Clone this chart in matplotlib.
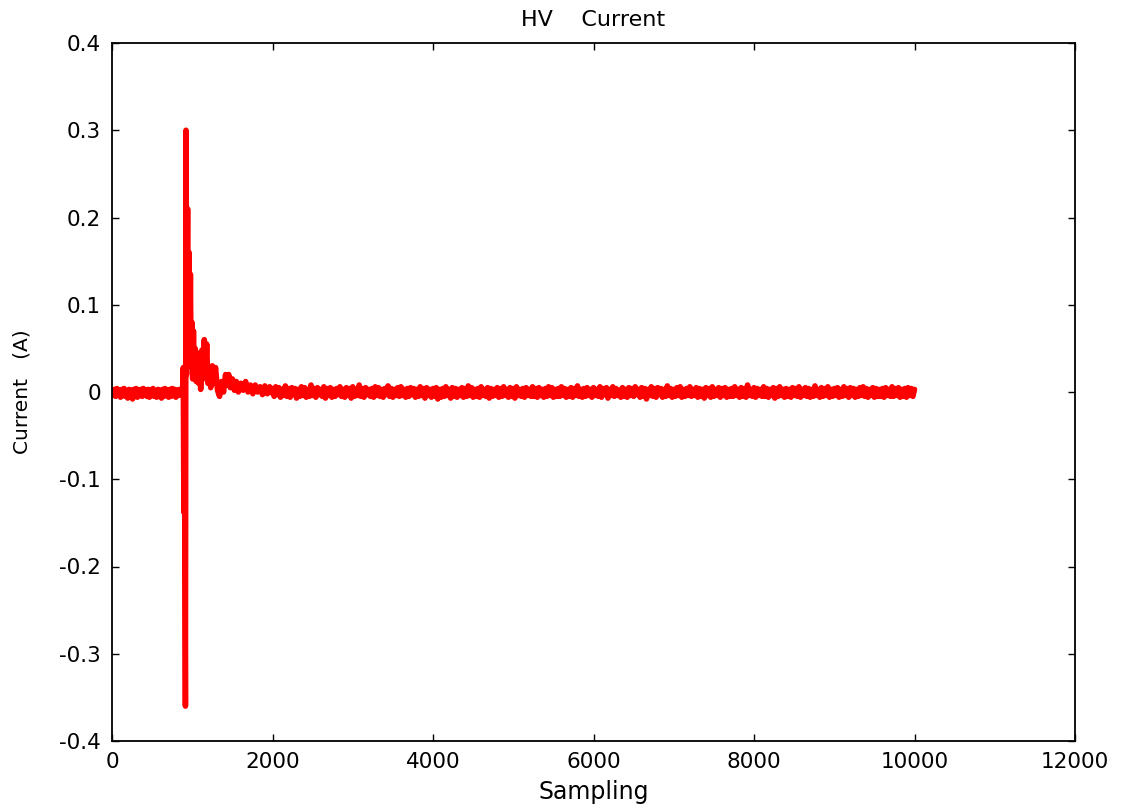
import numpy as np
import matplotlib
matplotlib.use("Agg")
import matplotlib.pyplot as plt

# ---- data ----
# baseline noise before the event, one value every 15 samples (0..885)
pre_step = 15
pre_values = [0.002, -0.004, 0.003, -0.005, 0.004, -0.003, 0.002, -0.006, 0.003, -0.004,
              0.004, -0.005, 0.001, -0.007, 0.003, -0.004, 0.002, -0.008, 0.003, -0.005,
              0.004, -0.006, 0.002, -0.004, 0.003, -0.005, 0.004, -0.003, 0.002, -0.005,
              0.003, -0.006, 0.002, -0.004, 0.004, -0.005, 0.001, -0.006, 0.003, -0.004,
              0.002, -0.007, 0.003, -0.005, 0.004, -0.004, 0.002, -0.006, 0.003, -0.005,
              0.004, -0.004, 0.003, -0.006, 0.002, -0.004, 0.003, -0.003]

# transient (sample index, current)
event_samples = [870, 880, 888, 896, 902, 915, 922, 928, 942, 950, 960, 968, 977, 985, 995,
                 1005, 1015, 1025, 1035, 1050, 1065, 1080, 1095, 1105, 1120, 1135, 1150, 1165,
                 1180, 1195, 1215, 1230, 1250, 1270, 1290, 1315, 1340, 1365, 1390, 1415, 1435,
                 1455, 1475, 1500, 1525, 1550, 1575, 1605, 1635, 1665, 1695, 1725, 1755, 1785,
                 1815, 1845, 1875, 1905, 1935, 1965, 1990]
event_values = [-0.003, 0.002, 0.028, -0.138, 0.025, -0.36, 0.30, 0.02, 0.21, 0.03, 0.16, 0.04,
                0.135, 0.03, 0.08, 0.015, 0.07, 0.02, 0.05, 0.012, 0.045, 0.01, 0.04, 0.003,
                0.048, 0.015, 0.06, 0.02, 0.055, 0.01, 0.028, 0.005, 0.03, 0.01, 0.028, 0.002,
                -0.005, 0.012, 0.0, 0.02, 0.008, 0.02, 0.005, 0.015, 0.002, 0.012, 0.0, 0.01,
                0.002, 0.012, 0.0, 0.008, -0.002, 0.008, 0.0, 0.006, -0.003, 0.007, -0.002,
                0.006, -0.001]

# baseline noise after the event, one value every 20 samples (2000..10000)
post_start = 2000
post_step = 20
post_values = [
    0.004, -0.005, 0.006, -0.003, 0.005, -0.006, 0.003, -0.004, 0.007, -0.005, 0.004, -0.006, 0.005, -0.003, 0.004, -0.007, 0.003, -0.005, 0.006, -0.004,
    0.005, -0.006, 0.003, -0.005, 0.008, -0.004, 0.004, -0.006, 0.005, -0.003, 0.003, -0.005, 0.006, -0.007, 0.004, -0.004, 0.005, -0.006, 0.003, -0.005,
    0.004, -0.003, 0.006, -0.005, 0.003, -0.006, 0.005, -0.004, 0.004, -0.007, 0.006, -0.005, 0.003, -0.004, 0.008, -0.005, 0.004, -0.006, 0.005, -0.003,
    0.003, -0.005, 0.004, -0.006, 0.006, -0.004, 0.005, -0.005, 0.003, -0.006, 0.004, -0.003, 0.007, -0.005, 0.004, -0.006, 0.003, -0.004, 0.005, -0.005,
    0.006, -0.004, 0.003, -0.006, 0.004, -0.005, 0.005, -0.003, 0.004, -0.006, 0.003, -0.005, 0.006, -0.004, 0.004, -0.007, 0.005, -0.004, 0.003, -0.006,
    0.004, -0.005, 0.005, -0.008, 0.003, -0.006, 0.004, -0.005, 0.006, -0.004, 0.003, -0.007, 0.005, -0.005, 0.004, -0.006, 0.003, -0.004, 0.005, -0.006,
    0.004, -0.005, 0.007, -0.004, 0.005, -0.006, 0.003, -0.005, 0.004, -0.006, 0.006, -0.004, 0.003, -0.005, 0.005, -0.007, 0.004, -0.005, 0.003, -0.004,
    0.005, -0.006, 0.004, -0.005, 0.006, -0.004, 0.003, -0.006, 0.005, -0.005, 0.004, -0.007, 0.006, -0.004, 0.003, -0.005, 0.004, -0.006, 0.005, -0.004,
    0.003, -0.005, 0.006, -0.005, 0.004, -0.006, 0.005, -0.004, 0.003, -0.006, 0.004, -0.005, 0.006, -0.004, 0.005, -0.006, 0.003, -0.005, 0.004, -0.005,
    0.006, -0.004, 0.004, -0.006, 0.003, -0.005, 0.005, -0.006, 0.004, -0.004, 0.007, -0.005, 0.003, -0.006, 0.004, -0.005, 0.005, -0.004, 0.003, -0.006,
    0.005, -0.004, 0.003, -0.005, 0.006, -0.006, 0.004, -0.003, 0.005, -0.007, 0.003, -0.004, 0.006, -0.005, 0.004, -0.004, 0.002, -0.006, 0.005, -0.005,
    0.003, -0.006, 0.005, -0.004, 0.004, -0.005, 0.006, -0.003, 0.003, -0.006, 0.005, -0.005, 0.004, -0.008, 0.003, -0.004, 0.006, -0.005, 0.004, -0.006,
    0.005, -0.003, 0.004, -0.006, 0.003, -0.005, 0.007, -0.004, 0.004, -0.006, 0.003, -0.005, 0.005, -0.004, 0.006, -0.006, 0.003, -0.005, 0.004, -0.004,
    0.006, -0.005, 0.003, -0.004, 0.005, -0.006, 0.004, -0.005, 0.003, -0.007, 0.005, -0.004, 0.004, -0.006, 0.006, -0.005, 0.003, -0.004, 0.005, -0.006,
    0.004, -0.004, 0.005, -0.006, 0.003, -0.005, 0.004, -0.005, 0.006, -0.004, 0.003, -0.006, 0.005, -0.005, 0.004, -0.006, 0.008, -0.004, 0.003, -0.005,
    0.005, -0.006, 0.004, -0.004, 0.003, -0.005, 0.006, -0.005, 0.004, -0.006, 0.003, -0.004, 0.005, -0.007, 0.004, -0.005, 0.006, -0.004, 0.003, -0.006,
    0.004, -0.005, 0.003, -0.006, 0.005, -0.004, 0.004, -0.005, 0.006, -0.006, 0.003, -0.004, 0.005, -0.005, 0.004, -0.006, 0.003, -0.005, 0.007, -0.004,
    0.003, -0.006, 0.005, -0.005, 0.004, -0.004, 0.006, -0.006, 0.003, -0.005, 0.004, -0.004, 0.005, -0.006, 0.003, -0.005, 0.006, -0.004, 0.004, -0.006,
    0.005, -0.004, 0.004, -0.006, 0.003, -0.005, 0.005, -0.004, 0.006, -0.005, 0.004, -0.006, 0.003, -0.004, 0.005, -0.006, 0.004, -0.005, 0.003, -0.005,
    0.004, -0.006, 0.005, -0.004, 0.003, -0.005, 0.006, -0.005, 0.004, -0.004, 0.005, -0.006, 0.003, -0.005, 0.004, -0.006, 0.005, -0.004, 0.004, -0.005,
    0.003]

x_ticks = [0, 2000, 4000, 6000, 8000, 10000, 12000]
y_ticks = [-0.4, -0.3, -0.2, -0.1, 0, 0.1, 0.2, 0.3, 0.4]
y_tick_labels = ["-0.4", "-0.3", "-0.2", "-0.1", "0", "0.1", "0.2", "0.3", "0.4"]

# ---- assemble series ----
pre_x = np.arange(len(pre_values)) * pre_step + 1
post_x = post_start + np.arange(len(post_values)) * post_step
x = np.concatenate([pre_x, np.array(event_samples), post_x])
y = np.concatenate([np.array(pre_values), np.array(event_values), np.array(post_values)])

# ---- figure ----
plt.rcParams['font.family'] = ['DejaVu Sans']
fig = plt.figure(figsize=(11.22, 8.10), dpi=100)
ax = fig.add_axes([112 / 1122, 69 / 810, (1075 - 112) / 1122, (741 - 43) / 810])

ax.plot(x, y, color='#ff0000', linewidth=4.0, solid_joinstyle='round', solid_capstyle='round')

ax.set_xlim(0, 12000)
ax.set_ylim(-0.4, 0.4)
ax.set_xticks(x_ticks)
ax.set_xticklabels([str(t) for t in x_ticks])
ax.set_yticks(y_ticks)
ax.set_yticklabels(y_tick_labels)

ax.tick_params(direction='in', length=5, width=1, top=True, right=True,
               labelsize=15.5, pad=8, colors='black')
for s in ax.spines.values():
    s.set_linewidth(1.3)

ax.set_title("HV    Current", fontsize=16, pad=12)
ax.set_xlabel("Sampling", fontsize=17, labelpad=6)
ax.set_ylabel("Current   (A)", fontsize=14.5, labelpad=20)

fig.savefig("out.png", dpi=100)
